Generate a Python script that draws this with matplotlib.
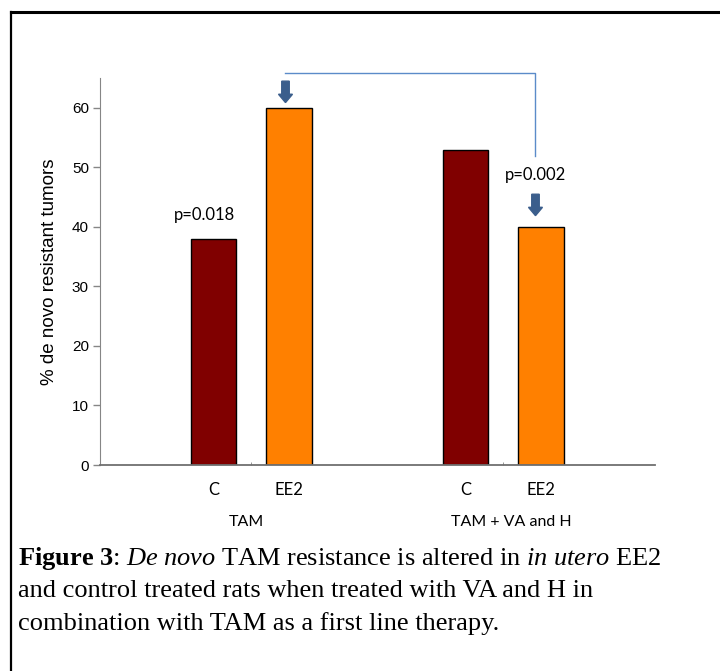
import matplotlib
matplotlib.use("Agg")
import matplotlib.pyplot as plt
from matplotlib.patches import FancyArrow
from matplotlib.lines import Line2D

# caption uses bold / italic words inside one line
plt.rcParams["mathtext.fontset"] = "custom"
plt.rcParams["mathtext.rm"] = "Liberation Serif"
plt.rcParams["mathtext.it"] = "Liberation Serif:italic"
plt.rcParams["mathtext.bf"] = "Liberation Serif:bold"

# data
bar_labels = ["C", "EE2", "C", "EE2"]
bar_pos = [2.27, 3.78, 7.31, 8.82]
bar_vals = [38, 60, 53, 40]
bar_colors = ["#800000", "#FF8000", "#800000", "#FF8000"]
group_labels = ["TAM", "TAM + VA and H"]
p_labels = ["p=0.018", "p=0.002"]
y_ticks = [0, 10, 20, 30, 40, 50, 60]

fig = plt.figure(figsize=(7.2, 6.71), dpi=100)
ax = fig.add_axes([0.1389, 0.307, 0.7708, 0.5765])

ax.bar(bar_pos, bar_vals, width=0.91, color=bar_colors, edgecolor="black", linewidth=1)

ax.set_xlim(0, 11.1)
ax.set_ylim(0, 65)
ax.set_yticks(y_ticks)
ax.set_yticklabels([str(v) for v in y_ticks], fontfamily="Liberation Sans", fontsize=11)
ax.tick_params(axis="y", direction="out", length=5, width=1, color="#868686", pad=3)
ax.set_xticks(bar_pos)
ax.set_xticklabels(bar_labels, fontfamily="Lato", fontsize=12)
ax.tick_params(axis="x", length=0, pad=12)
# little marks between the groups
grp_x = [(bar_pos[0] + bar_pos[1]) / 2, (bar_pos[2] + bar_pos[3]) / 2]
ax.set_xticks(grp_x, minor=True)
ax.tick_params(axis="x", which="minor", direction="in", length=2, color="#868686")

for s in ["top", "right"]:
    ax.spines[s].set_visible(False)
ax.spines["left"].set_color("#868686")
ax.spines["bottom"].set_color("#6f6f6f")
ax.spines["bottom"].set_linewidth(1.3)

ax.set_ylabel("% de novo resistant tumors", fontfamily="Liberation Sans", fontsize=13.5,
              labelpad=10)

# group labels under the tick labels
grp_shift = [-0.1, 0.16]
for gx, sh, gl in zip(grp_x, grp_shift, group_labels):
    ax.text(gx + sh, -9.5, gl, ha="center", va="center", fontfamily="Lato", fontsize=11.5)

# p values
ax.text(bar_pos[0] - 0.18, 42, p_labels[0], ha="center", va="center",
        fontfamily="Lato", fontsize=12)
ax.text(bar_pos[3] - 0.11, 48.7, p_labels[1], ha="center", va="center",
        fontfamily="Lato", fontsize=12)

# block arrows over the EE2 bars
arrow_x = [bar_pos[1] - 0.07, bar_pos[3] - 0.11]
arrow_tip = [bar_vals[1] + 0.9, bar_vals[3] + 1.9]
for axx, tip in zip(arrow_x, arrow_tip):
    ax.add_patch(FancyArrow(axx, tip + 3.6, 0, -3.6, width=0.15, head_width=0.28,
                            head_length=1.4, length_includes_head=True,
                            color="#3B5E8C", clip_on=False))

# bracket joining the two EE2 groups
ax.plot([arrow_x[0], arrow_x[1], arrow_x[1]], [65.8, 65.8, 51.9],
        color="#5B8BC9", lw=1, clip_on=False)

# frame around the figure, cut at right and bottom edges
fig.add_artist(Line2D([10.5 / 720, 1.0], [1 - 12 / 671, 1 - 12 / 671],
                      color="black", lw=2.2, transform=fig.transFigure))
fig.add_artist(Line2D([10.5 / 720, 10.5 / 720], [0, 1 - 12 / 671],
                      color="black", lw=1.6, transform=fig.transFigure))

# caption
cap_x = 18 / 720
fig.text(cap_x, 1 - 558 / 671, "$\\mathbf{Figure\\ 3}$: $\\mathit{De\\ novo}$ TAM resistance is altered in "
         "$\\mathit{in\\ utero}$ EE2", fontfamily="Liberation Serif", fontsize=19, va="center")
fig.text(cap_x, 1 - 591 / 671, "and control treated rats when treated with VA and H in",
         fontfamily="Liberation Serif", fontsize=19, va="center")
fig.text(cap_x, 1 - 624 / 671, "combination with TAM as a first line therapy.",
         fontfamily="Liberation Serif", fontsize=19, va="center")

fig.savefig("out.png", dpi=100)
